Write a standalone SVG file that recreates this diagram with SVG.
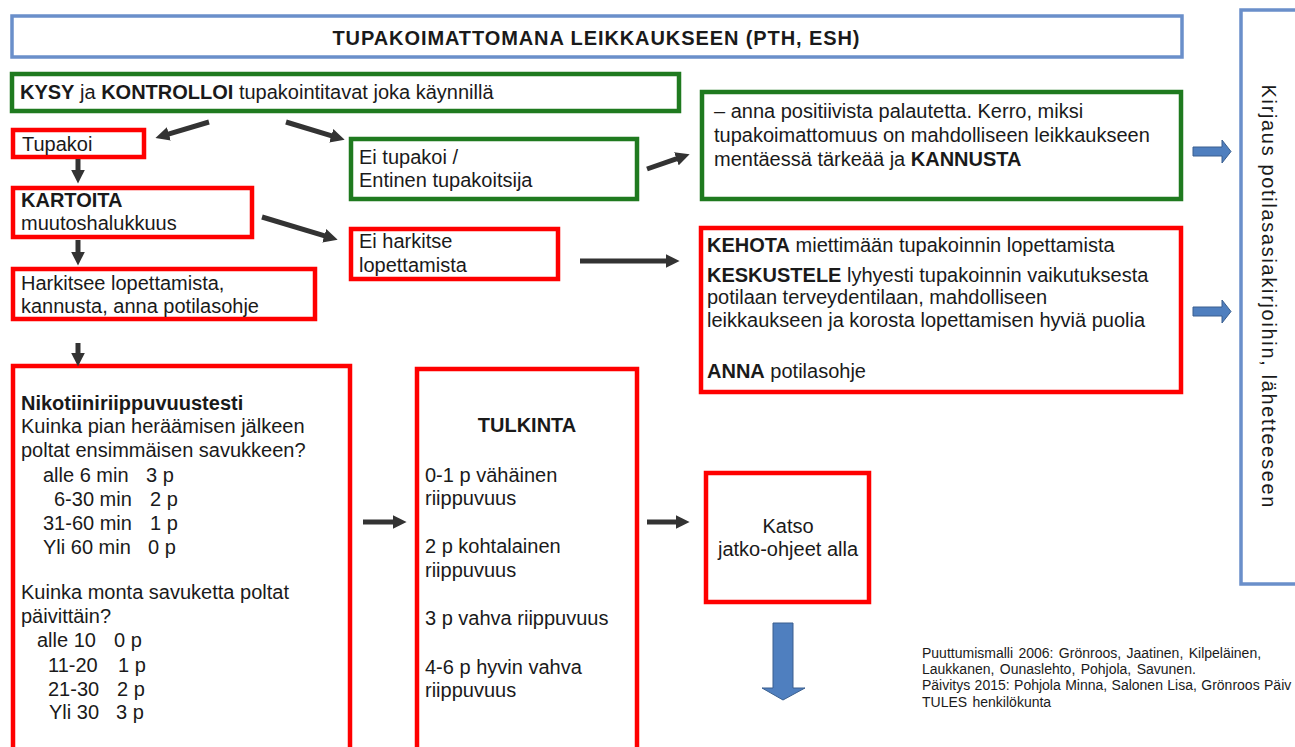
<svg xmlns="http://www.w3.org/2000/svg" width="1295" height="747" viewBox="0 0 1295 747">
<style>
text{font-family:"Liberation Sans",Arial,sans-serif;font-size:20px;fill:#1a1a1a}
.b{font-weight:bold}
.red{fill:#fff;stroke:#ff0000;stroke-width:4.5}
.grn{fill:#fff;stroke:#1f7a1f;stroke-width:4.5}
.blu{fill:#fff;stroke:#6a8fca;stroke-width:3.5}
.arr{stroke:#333;stroke-width:5;fill:none;marker-end:url(#ah)}
.blk{fill:#4f7fbf;stroke:#3a5f8f;stroke-width:1}
.foot{font-size:14px;word-spacing:1.5px}
</style>
<defs>
<marker id="ah" viewBox="0 0 10 10" refX="1" refY="5" markerWidth="14" markerHeight="14" markerUnits="userSpaceOnUse" orient="auto">
<path d="M0,0 L10,5 L0,10 z" fill="#333"/>
</marker>
</defs>
<rect width="1295" height="747" fill="#fff"/>

<g id="title">
<rect class="blu" x="12" y="16" width="1170" height="41"/>
<text class="b" x="596" y="45" text-anchor="middle" font-size="21.5" textLength="527" lengthAdjust="spacing">TUPAKOIMATTOMANA LEIKKAUKSEEN (PTH, ESH)</text>
</g>

<g id="kirjaus">
<rect class="blu" x="1241" y="10" width="70" height="574"/>
<text transform="translate(1262,296) rotate(90)" text-anchor="middle" font-size="24" textLength="423" lengthAdjust="spacing">Kirjaus potilasasiakirjoihin, lähetteeseen</text>
</g>

<g id="kysy">
<rect class="grn" x="12" y="74" width="667" height="37"/>
<text x="20" y="99"><tspan class="b">KYSY</tspan> ja <tspan class="b">KONTROLLOI</tspan> tupakointitavat joka käynnillä</text>
</g>

<g id="tupakoi">
<rect class="red" x="13" y="130" width="131" height="27"/>
<text x="22" y="151">Tupakoi</text>
</g>

<g id="eitupakoi">
<rect class="grn" x="351" y="139" width="286" height="60"/>
<text x="359" y="164">Ei tupakoi /</text>
<text x="359" y="187">Entinen tupakoitsija</text>
</g>

<g id="palaute">
<rect class="grn" x="702" y="92" width="479" height="107"/>
<text x="714" y="118">– anna positiivista palautetta. Kerro, miksi</text>
<text x="714" y="142">tupakoimattomuus on mahdolliseen leikkaukseen</text>
<text x="714" y="166">mentäessä tärkeää ja <tspan class="b">KANNUSTA</tspan></text>
</g>

<g id="kartoita">
<rect class="red" x="13" y="188" width="239" height="49"/>
<text class="b" x="21" y="207">KARTOITA</text>
<text x="21" y="230">muutoshalukkuus</text>
</g>

<g id="eiharkitse">
<rect class="red" x="351" y="229" width="207" height="50"/>
<text x="359" y="248">Ei harkitse</text>
<text x="359" y="272">lopettamista</text>
</g>

<g id="kehota">
<rect class="red" x="701" y="228" width="480" height="164"/>
<text x="707" y="252"><tspan class="b">KEHOTA</tspan> miettimään tupakoinnin lopettamista</text>
<text x="707" y="282"><tspan class="b">KESKUSTELE</tspan> lyhyesti tupakoinnin vaikutuksesta</text>
<text x="707" y="304">potilaan terveydentilaan, mahdolliseen</text>
<text x="707" y="327">leikkaukseen ja korosta lopettamisen hyviä puolia</text>
<text x="707" y="378"><tspan class="b">ANNA</tspan> potilasohje</text>
</g>

<g id="harkitsee">
<rect class="red" x="13" y="269" width="302" height="50"/>
<text x="21" y="290">Harkitsee lopettamista,</text>
<text x="21" y="313">kannusta, anna potilasohje</text>
</g>

<g id="testi">
<rect class="red" x="13" y="366" width="337" height="400"/>
<text class="b" x="21" y="410">Nikotiiniriippuvuustesti</text>
<text x="21" y="433">Kuinka pian heräämisen jälkeen</text>
<text x="21" y="457">poltat ensimmäisen savukkeen?</text>
<text x="43" y="482">alle 6 min<tspan x="146">3 p</tspan></text>
<text x="54" y="506">6-30 min<tspan x="150">2 p</tspan></text>
<text x="43" y="530">31-60 min<tspan x="150">1 p</tspan></text>
<text x="43" y="554">Yli 60 min<tspan x="148">0 p</tspan></text>
<text x="21" y="599">Kuinka monta savuketta poltat</text>
<text x="21" y="623">päivittäin?</text>
<text x="37" y="647">alle 10<tspan x="114">0 p</tspan></text>
<text x="48" y="672">11-20<tspan x="118">1 p</tspan></text>
<text x="48" y="696">21-30<tspan x="117">2 p</tspan></text>
<text x="49" y="719">Yli 30<tspan x="116">3 p</tspan></text>
</g>

<g id="tulkinta">
<rect class="red" x="417" y="369" width="220" height="400"/>
<text class="b" x="527" y="432" text-anchor="middle">TULKINTA</text>
<text x="425" y="482">0-1 p vähäinen</text>
<text x="425" y="505">riippuvuus</text>
<text x="425" y="553">2 p kohtalainen</text>
<text x="425" y="577">riippuvuus</text>
<text x="425" y="625">3 p vahva riippuvuus</text>
<text x="425" y="674">4-6 p hyvin vahva</text>
<text x="425" y="697">riippuvuus</text>
</g>

<g id="katso">
<rect class="red" x="706" y="473" width="163" height="129"/>
<text x="788" y="533" text-anchor="middle">Katso</text>
<text x="788" y="556" text-anchor="middle">jatko-ohjeet alla</text>
</g>

<g id="footer">
<text class="foot" x="922" y="658">Puuttumismalli 2006: Grönroos, Jaatinen, Kilpeläinen,</text>
<text class="foot" x="922" y="674">Laukkanen, Ounaslehto, Pohjola, Savunen.</text>
<text class="foot" x="922" y="690" style="word-spacing:0.5px">Päivitys 2015: Pohjola Minna, Salonen Lisa, Grönroos Päiv</text>
<text class="foot" x="922" y="707">TULES henkilökunta</text>
</g>

<g id="connectors">
<line class="arr" x1="209" y1="122" x2="167.5" y2="134.3"/>
<line class="arr" x1="286" y1="122" x2="332.6" y2="136.2"/>
<line class="arr" x1="647" y1="169" x2="677.7" y2="158.3"/>
<line class="arr" x1="78" y1="159" x2="78" y2="171"/>
<line class="arr" x1="78" y1="240" x2="78" y2="253"/>
<line class="arr" x1="262" y1="217" x2="325.6" y2="236.2"/>
<line class="arr" x1="580" y1="261" x2="667" y2="261"/>
<line class="arr" x1="78" y1="343" x2="78" y2="354"/>
<line class="arr" x1="363" y1="522" x2="394" y2="522"/>
<line class="arr" x1="647" y1="522" x2="677" y2="522"/>
<path class="blk" d="M1193,147 H1222 V140 L1231,151.5 L1222,163 V156 H1193 Z"/>
<path class="blk" d="M1193,307 H1222 V300 L1231,311.5 L1222,323 V316 H1193 Z"/>
<path class="blk" d="M773,623 H793 V688 H805 L783,700 L762,688 H773 Z"/>
</g>
</svg>
